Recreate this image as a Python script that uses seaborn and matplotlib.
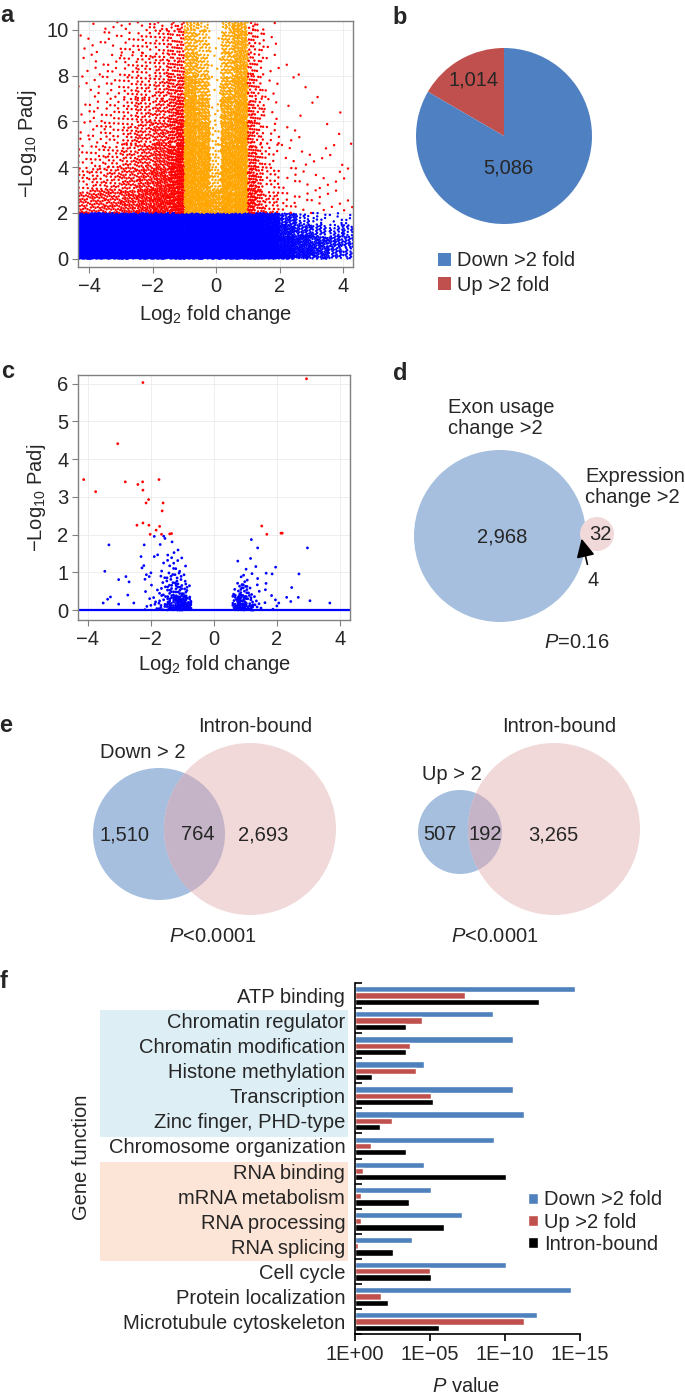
import numpy as np
import pandas as pd
import seaborn as sns
import matplotlib.pyplot as plt
from matplotlib.patches import Circle, Rectangle

# ---------------- panel a: volcano, read as point density per cell ----------------
# density 0..1 (1 = solid colour), rows go bottom -> top
a_low_xedges = [-4.5, -4, -3.5, -3, -2.5, -2, -1.5, -1, -0.5, 0, 0.5, 1, 1.5, 2, 2.5, 3, 3.5, 4, 4.5]
a_low_yedges = [0, 0.5, 1, 1.5, 2]
a_low_density = [
    [1] * 12 + [0.95, 0.6, 0.4, 0.28, 0.2, 0.16],
    [1] * 12 + [0.9, 0.5, 0.36, 0.28, 0.24, 0.2],
    [1] * 12 + [0.75, 0.36, 0.24, 0.16, 0.12, 0.12],
    [1] * 12 + [0.6, 0.24, 0.12, 0.06, 0.04, 0.05],
]
a_high_xedges = [-4.5, -4, -3.5, -3, -2.5, -2, -1.5, -1.25, -1, -0.6, -0.2, 0.15, 0.55, 1,
                 1.25, 1.5, 2, 2.5, 3, 3.5, 4, 4.5]
a_high_yedges = [2, 3, 4, 5, 6, 7, 8, 9, 10, 10.5]
a_high_density = [
    [0.35, 0.4, 0.4, 0.5, 0.6, 0.75, 0.9, 1.0, 1.0, 1.0, 0.8, 1.0, 1.0, 0.7, 0.4, 0.2, 0.08, 0.05, 0.04, 0.03, 0.03],
    [0.15, 0.2, 0.25, 0.35, 0.45, 0.6, 0.85, 1.0, 1.0, 0.95, 0.35, 0.95, 1.0, 0.55, 0.3, 0.12, 0.04, 0.03, 0.02, 0.02, 0.02],
    [0.08, 0.12, 0.18, 0.25, 0.35, 0.5, 0.7, 0.95, 1.0, 0.9, 0.2, 0.9, 1.0, 0.45, 0.25, 0.08, 0.03, 0.02, 0.02, 0.02, 0.01],
    [0.05, 0.08, 0.12, 0.2, 0.3, 0.4, 0.55, 0.8, 0.95, 0.8, 0.12, 0.8, 0.95, 0.4, 0.2, 0.06, 0.02, 0.01, 0.01, 0.01, 0.01],
    [0.04, 0.07, 0.1, 0.15, 0.22, 0.3, 0.45, 0.65, 0.9, 0.65, 0.08, 0.7, 0.9, 0.35, 0.18, 0.05, 0.01, 0.01, 0.01, 0.01, 0.0],
    [0.03, 0.05, 0.08, 0.12, 0.18, 0.25, 0.35, 0.5, 0.75, 0.5, 0.05, 0.55, 0.85, 0.3, 0.15, 0.04, 0.01, 0.01, 0.01, 0.0, 0.0],
    [0.02, 0.04, 0.06, 0.1, 0.15, 0.2, 0.28, 0.35, 0.55, 0.35, 0.04, 0.45, 0.7, 0.25, 0.12, 0.03, 0.01, 0.01, 0.0, 0.0, 0.0],
    [0.02, 0.03, 0.05, 0.08, 0.12, 0.15, 0.22, 0.3, 0.45, 0.3, 0.03, 0.4, 0.65, 0.25, 0.12, 0.03, 0.0, 0.0, 0.0, 0.0, 0.0],
    [0.01, 0.02, 0.04, 0.08, 0.1, 0.12, 0.18, 0.25, 0.4, 0.25, 0.03, 0.4, 0.6, 0.2, 0.1, 0.02, 0.0, 0.0, 0.0, 0.0, 0.0],
]

# ---------------- panel b: pie ----------------
pie_labels = ["Up >2 fold", "Down >2 fold"]
pie_values = [1014, 5086]

# ---------------- panel c: volcano (exon usage) ----------------
c_yedges = [0, 0.2, 0.4, 0.7, 1.0, 1.5, 2.0]
c_left_xedges = [-2.25, -2, -1.75, -1.5, -1.25, -1, -0.85, -0.7]
c_left_density = [
    [0.1, 0.15, 0.3, 0.6, 0.9, 1.0, 0.9],
    [0.06, 0.1, 0.2, 0.45, 0.7, 0.7, 0.35],
    [0.03, 0.06, 0.12, 0.3, 0.4, 0.3, 0.05],
    [0.02, 0.03, 0.08, 0.2, 0.22, 0.1, 0.0],
    [0.01, 0.02, 0.04, 0.1, 0.08, 0.02, 0.0],
    [0.0, 0.01, 0.02, 0.03, 0.01, 0.0, 0.0],
]
c_right_xedges = [0.6, 0.75, 0.9, 1.05, 1.25, 1.5, 2.0]
c_right_density = [
    [0.7, 1.0, 0.9, 0.6, 0.2, 0.06],
    [0.35, 0.8, 0.6, 0.3, 0.1, 0.04],
    [0.1, 0.35, 0.3, 0.15, 0.06, 0.02],
    [0.02, 0.08, 0.1, 0.06, 0.03, 0.01],
    [0.0, 0.02, 0.03, 0.03, 0.01, 0.0],
    [0.0, 0.0, 0.0, 0.01, 0.0, 0.0],
]
c_sparse_x = [-3.33, -3.46, -3.02, -2.79, -2.69, -3.51, -3.37, -3.28, -2.73, -3.02, -2.54, -2.21, -2.31,
              -2.28, -2.14, -2.05, -1.89, -1.59, -1.55, 1.19, 1.39, 2.97, 1.66, 1.96, 1.85, 2.70, 2.47,
              3.05, 3.68, 2.68, 2.31, 2.06, 2.44,
              2.94, -2.25, -3.05, -4.13, -3.75, -2.81, -2.41, -2.26, -1.74, -2.25, -2.07, -2.15, -1.61,
              -1.64, -2.44, -2.25, -2.06, -1.83, -1.72, -2.02, -1.66, -1.40, -1.34, 1.52, 1.68, 2.13, 2.17]
c_sparse_y = [1.73, 1.03, 0.81, 0.89, 0.75, 0.19, 0.29, 0.35, 0.40, 0.16, 0.19, 1.73, 1.42,
              1.12, 0.94, 0.89, 1.42, 1.96, 1.90, 1.87, 1.65, 1.65, 0.98, 1.14, 0.96, 0.96, 0.60,
              0.25, 0.19, 0.34, 0.34, 0.19, 0.23,
              6.13, 6.03, 4.41, 3.46, 3.14, 3.40, 3.33, 3.40, 3.46, 3.18, 2.93, 2.84, 2.84,
              2.63, 2.25, 2.31, 2.25, 2.12, 2.22, 2.01, 2.01, 2.02, 2.03, 2.23, 2.01, 2.04, 2.04]

# ---------------- panels d, e: Venn counts ----------------
d_counts = {"exon_only": 2968, "both": 4, "expr_only": 32}
e_down = {"left": 1510, "both": 764, "right": 2693}
e_up = {"left": 507, "both": 192, "right": 3265}

# ---------------- panel f: -log10 P per gene function ----------------
functions = ["ATP binding", "Chromatin regulator", "Chromatin modification", "Histone methylation",
             "Transcription", "Zinc finger, PHD-type", "Chromosome organization", "RNA binding",
             "mRNA metabolism", "RNA processing", "RNA splicing", "Cell cycle",
             "Protein localization", "Microtubule cytoskeleton"]
series_names = ["Down >2 fold", "Up >2 fold", "Intron-bound"]
down_logp = [14.69, 9.22, 10.51, 4.60, 10.56, 11.27, 9.24, 4.62, 5.09, 7.16, 3.80, 10.07, 14.38, 12.13]
up_logp = [7.33, 4.47, 3.69, 4.07, 5.07, 2.49, 1.07, 0.53, 0.38, 0.40, 0.18, 5.00, 1.76, 11.29]
intron_logp = [12.29, 3.38, 3.38, 1.13, 5.18, 1.69, 3.42, 10.07, 3.58, 5.93, 2.53, 5.07, 2.18, 5.58]
p_tick_labels = ["1E+00", "1E\u221205", "1E\u221210", "1E\u221215"]

# ------------------------------------------------------------------------------
sns.set_theme(style="white")
plt.rcParams["font.family"] = ["Liberation Sans", "DejaVu Sans"]
plt.rcParams["mathtext.fontset"] = "custom"
plt.rcParams["mathtext.rm"] = "Liberation Sans"
plt.rcParams["mathtext.it"] = "Liberation Sans:italic"
plt.rcParams["mathtext.bf"] = "Liberation Sans:bold"
FS = 14.5

W, H = 685, 1398
fig = plt.figure(figsize=(W / 100, H / 100), dpi=100)


def px_axes(l, t, r, b, **kw):
    return fig.add_axes([l / W, 1 - b / H, (r - l) / W, (b - t) / H], **kw)


def spread(xedges, yedges, dens, full):
    # put round(density * full * area) points evenly inside every cell
    xs, ys = [], []
    k = 0
    for i in range(len(yedges) - 1):
        for j in range(len(xedges) - 1):
            x0, x1 = xedges[j], xedges[j + 1]
            y0, y1 = yedges[i], yedges[i + 1]
            n = int(round(dens[i][j] * full * (x1 - x0) * (y1 - y0)))
            if n == 0:
                continue
            idx = np.arange(k, k + n)
            k += n
            u = (0.5 + idx * 0.7548776662) % 1
            v = (0.5 + idx * 0.5698402910) % 1
            xs.append(x0 + u * (x1 - x0))
            ys.append(y0 + v * (y1 - y0))
    return np.concatenate(xs), np.concatenate(ys)


canvas = fig.add_axes([0, 0, 1, 1], zorder=0)
canvas.set_xlim(0, W)
canvas.set_ylim(H, 0)
canvas.axis("off")


def txt(x, y, s, **kw):
    kw.setdefault("fontsize", FS)
    kw.setdefault("ha", "center")
    kw.setdefault("va", "center")
    canvas.text(x, y, s, **kw)


for lab, (x, y) in {"a": (7, 16), "b": (400, 17), "c": (8, 372), "d": (400, 373),
                    "e": (6, 726), "f": (4, 982)}.items():
    txt(x, y, lab, fontsize=17, fontweight="bold")

volcano_pal = {"ns": "#0000FF", "fc": "#FFA500", "sig": "#FF0000"}


def style_volcano(ax, xlim, ylim, yticks, bottom_px, left_px, height_px, width_px, ylab_x, xlab_y):
    ax.set_xlim(*xlim)
    ax.set_ylim(*ylim)
    ax.set_xticks([-4, -2, 0, 2, 4])
    ax.set_yticks(yticks)
    ax.grid(True, color="#EBEBEB", lw=0.6)
    ax.set_axisbelow(True)
    for sp in ax.spines.values():
        sp.set_color("#808080")
        sp.set_linewidth(1)
    ax.tick_params(axis="both", direction="out", length=4, width=0.8, color="#808080",
                   labelsize=FS, pad=3, bottom=True, left=True)
    ax.set_xlabel("Log$_2$ fold change", fontsize=FS)
    ax.xaxis.label.set_va("center")
    ax.xaxis.set_label_coords(0.5, (bottom_px - xlab_y) / height_px)
    ax.set_ylabel("\u2212Log$_{10}$ Padj", fontsize=FS)
    ax.yaxis.label.set_va("center")
    ax.yaxis.set_label_coords((ylab_x - left_px) / width_px, 0.5)


# ---- a
ax_a = px_axes(78, 21, 353, 267, zorder=1)
lx, ly = spread(a_low_xedges, a_low_yedges, a_low_density, 650)
hx, hy = spread(a_high_xedges, a_high_yedges, a_high_density, 260)
df_a = pd.DataFrame({"lfc": np.concatenate([lx, hx]), "padj": np.concatenate([ly, hy])})
df_a["group"] = np.where(df_a["padj"] < 2, "ns", np.where(df_a["lfc"].abs() < 1, "fc", "sig"))
sns.scatterplot(data=df_a, x="lfc", y="padj", hue="group", palette=volcano_pal, s=3,
                linewidth=0, legend=False, ax=ax_a)
style_volcano(ax_a, (-4.35, 4.31), (-0.36, 10.39), [0, 2, 4, 6, 8, 10], 267, 78, 246, 275, 28, 315)

# ---- b
ax_b = px_axes(416, 48, 592, 224, zorder=1)
wedges, _ = ax_b.pie(pie_values, colors=["#C0504D", "#4F81C2"], startangle=90, counterclock=True,
                     wedgeprops=dict(linewidth=0))
ax_b.set_xlim(-1, 1)
ax_b.set_ylim(-1, 1)
ax_b.text(-0.35, 0.64, f"{pie_values[0]:,}", ha="center", va="center", fontsize=FS)
ax_b.text(0.045, -0.36, f"{pie_values[1]:,}", ha="center", va="center", fontsize=FS)
ax_b.legend([wedges[1], wedges[0]], [pie_labels[1], pie_labels[0]], loc="center left",
            bbox_to_anchor=(438 / W, 1 - 273 / H), bbox_transform=fig.transFigure, frameon=False,
            handlelength=0.65, handleheight=0.65, handletextpad=0.3, labelspacing=0.25,
            borderpad=0, borderaxespad=0, fontsize=FS)

# ---- c
ax_c = px_axes(78, 375, 350, 620, zorder=1)
clx, cly = spread(c_left_xedges, c_yedges, c_left_density, 450)
crx, cry = spread(c_right_xedges, c_yedges, c_right_density, 450)
df_c = pd.DataFrame({"lfc": np.concatenate([clx, crx, c_sparse_x]),
                     "padj": np.concatenate([cly, cry, c_sparse_y])})
df_c["group"] = np.where(df_c["padj"] < 2, "ns", "sig")
ax_c.axhline(0, color="#0000FF", lw=1.6, zorder=2)
sns.scatterplot(data=df_c, x="lfc", y="padj", hue="group", palette=volcano_pal, s=4,
                linewidth=0, legend=False, ax=ax_c, zorder=3)
style_volcano(ax_c, (-4.31, 4.32), (-0.26, 6.23), [0, 1, 2, 3, 4, 5, 6], 620, 78, 245, 272, 37, 665)

# ---- d
VBLUE, VPINK, VOVER = "#A6BFDE", "#F2D9D9", "#C5B4C8"
canvas.add_patch(Circle((500, 536), 86, color=VBLUE, lw=0))
canvas.add_patch(Circle((597, 534), 17, color=VPINK, lw=0))
txt(448, 418, "Exon usage\nchange >2", ha="left", linespacing=1.15)
txt(585, 487, "Expression\nchange >2", ha="left", linespacing=1.15)
txt(502, 537, f"{d_counts['exon_only']:,}")
txt(600, 535, f"{d_counts['expr_only']}")
txt(593, 580, f"{d_counts['both']}")
canvas.annotate("", xy=(581, 536), xytext=(588, 567),
                arrowprops=dict(arrowstyle="-|>,head_length=0.7,head_width=0.35",
                                color="black", lw=1.2, mutation_scale=16))
txt(577, 643, "$P$=0.16")


# ---- e
def venn2(cb, rb, cp, rp, counts, name, name_xy, pos):
    blue = Circle(cb, rb, color=VBLUE, lw=0)
    canvas.add_patch(blue)
    canvas.add_patch(Circle(cp, rp, color=VPINK, lw=0))
    over = Circle(cp, rp, color=VOVER, lw=0)
    canvas.add_patch(over)
    over.set_clip_path(blue)
    txt(*name_xy, name)
    txt(cp[0] + 5, 727, "Intron-bound")
    for key, (x, y) in pos.items():
        txt(x, y, f"{counts[key]:,}")


venn2((159, 834), 66, (250, 829), 86, e_down, "Down > 2", (143, 752),
      {"left": (125, 835), "both": (198, 835), "right": (263, 835)})
venn2((460, 832), 42, (554, 829), 86, e_up, "Up > 2", (452, 775),
      {"left": (440, 835), "both": (485, 835), "right": (553, 835)})
txt(213, 937, "$P$<0.0001")
txt(495, 937, "$P$<0.0001")

# ---- f
canvas.add_patch(Rectangle((100, 1010), 248, 127, color="#DDEEF5", lw=0))
canvas.add_patch(Rectangle((100, 1162), 248, 99, color="#FCE4D6", lw=0))
txt(82, 1157, "Gene function", rotation=90)

df_f = pd.DataFrame({
    "function": functions * 3,
    "set": np.repeat(series_names, len(functions)),
    "logp": down_logp + up_logp + intron_logp,
})
ax_f = px_axes(355, 983, 580, 1334, zorder=1)
ax_f.set_facecolor("none")
sns.barplot(data=df_f, y="function", x="logp", hue="set", orient="h",
            palette=["#4F81BD", "#C0504D", "#000000"], width=0.75, saturation=1, ax=ax_f)
sns.move_legend(ax_f, "center left", bbox_to_anchor=(528 / W, 1 - 1222 / H),
                bbox_transform=fig.transFigure, title=None, frameon=False,
                handlelength=0.5, handleheight=0.5, handletextpad=0.3, labelspacing=0.15,
                borderpad=0, borderaxespad=0, fontsize=FS)
ax_f.set_xlim(0, 15)
ax_f.set_ylim(13.5, -0.5)
ax_f.set_xticks([0, 5, 10, 15])
ax_f.set_xticklabels(p_tick_labels)
ax_f.set_yticks(np.arange(-0.5, 13.6, 1), minor=True)
for side in ["top", "right"]:
    ax_f.spines[side].set_visible(False)
for side in ["left", "bottom"]:
    ax_f.spines[side].set_color("black")
    ax_f.spines[side].set_linewidth(1.2)
ax_f.tick_params(axis="x", direction="out", length=5, width=1.2, color="black",
                 labelsize=FS, pad=3, bottom=True)
ax_f.tick_params(axis="y", which="major", length=0, labelsize=FS, pad=7)
ax_f.tick_params(axis="y", which="minor", direction="in", length=5, width=1.2,
                 color="black", left=True)
ax_f.set_ylabel("")
ax_f.set_xlabel("$P$ value", fontsize=FS)
ax_f.xaxis.label.set_va("center")
ax_f.xaxis.set_label_coords((466 - 355) / 225, (1334 - 1387) / 351)

fig.savefig("out.png", dpi=100)
